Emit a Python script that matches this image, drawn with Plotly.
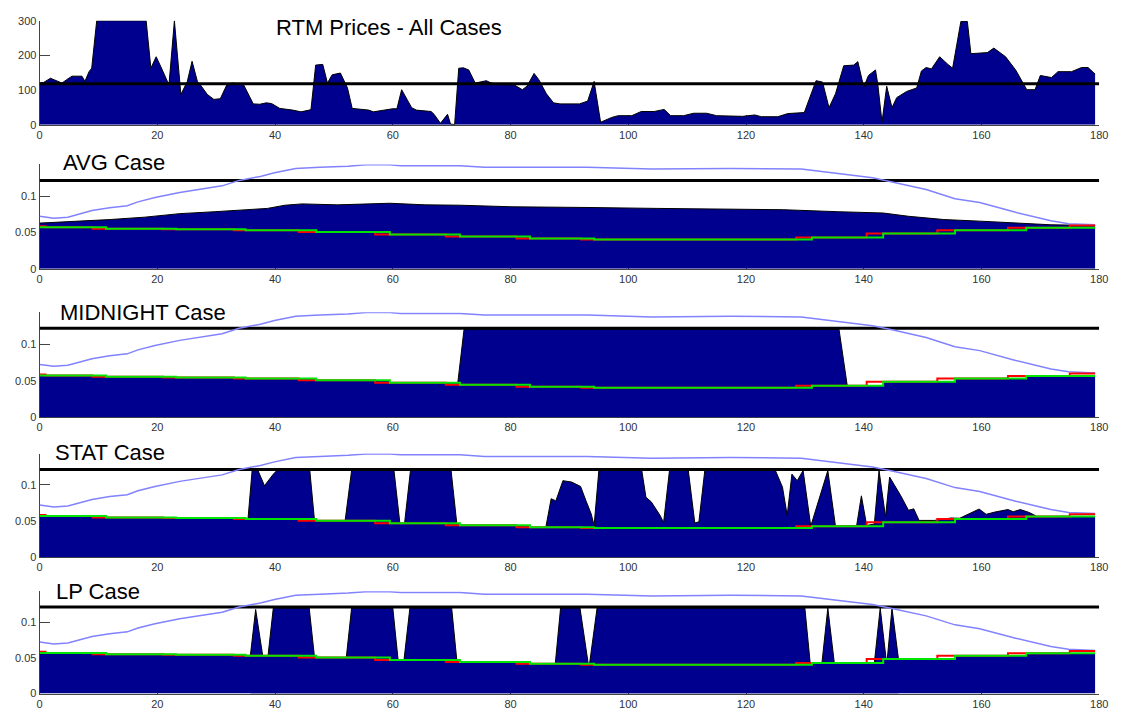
import plotly.graph_objects as go

# ---------------- data ----------------
# real-time market price (top panel)
rtm_x = [0, 0.7, 1.85, 2.7, 3.8, 4.6, 5.5, 7.2, 7.7, 8.4, 8.85, 9.7, 18.1, 18.9, 19.8, 20.6, 21.7, 22,
         22.9, 24, 25.1, 25.9, 26.8, 27.3, 28.5, 29.6, 30.7, 31.8, 32.7, 34.6, 35.5, 36.3, 37.4, 38.5,
         39.4, 40.8, 43, 44.4, 45.8, 46.1, 46.9, 48.1, 48.9, 49.7, 51.1, 52.3, 53.1, 55.9, 56.7, 58.4,
         60, 60.7, 61.5, 63.2, 64, 66.5, 67, 68.1, 69.3, 69.8, 70.5, 71.2, 72, 72.9, 74, 75.9, 76.7,
         79, 80.6, 82, 82.8, 84, 84.8, 86.1, 87.3, 88.4, 91.7, 93.1, 94.2, 94.5, 95.3, 97.2, 98.3,
         100.6, 102.2, 104.4, 106.1, 107.2, 109.4, 111.1, 113.3, 115, 117.2, 119.4, 121.5, 122.6,
         125.4, 127.1, 129.9, 130.5, 131.9, 133, 134.1, 135.2, 136.6, 138.3, 139, 140, 140.8, 142,
         142.4, 143.1, 143.9, 144.8, 145.6, 147.3, 149, 149.8, 150.6, 151.5, 152.9, 154.3, 155.1,
         156.5, 157.6, 158.2, 161, 162.1, 164.1, 165.8, 167.2, 167.7, 169.1, 170, 171.9, 173, 175.3,
         177, 178.1, 179.3]
rtm_y = [120, 122, 134, 127, 120, 130, 140, 140, 125, 153, 163, 300, 300, 163, 196, 167, 125, 120,
         300, 87, 125, 183, 125, 115, 87, 73, 75, 115, 120, 117, 87, 60, 59, 63,
         61, 47, 42, 37, 42, 44, 172, 174, 120, 144, 149, 106, 47, 42, 37, 42,
         46, 46, 101, 49, 42, 38, 30, 4, 30, 2, 0, 163, 164, 158, 120, 127, 120,
         115, 115, 101, 111, 148, 130, 89, 63, 60, 60, 68, 125, 92, 7, 21, 26,
         26, 38, 38, 44, 26, 26, 33, 33, 26, 24, 24, 28, 23,
         23, 32, 35, 63, 127, 123, 49, 89, 170, 172, 182, 108, 142, 158,
         115, 7, 111, 49, 78, 96, 106, 155, 165, 161, 196, 174, 163,
         298, 298, 205, 208, 221, 196, 158, 118, 101, 101, 142, 136, 153, 153,
         165, 165, 146]
rtm_limit = 118

# shared curves of the four load cases
limit_x = [0, 180]
limit_y = [0.1215, 0.1215]

blue_x = [0, 2.4, 4.8, 8.9, 11.9, 14.9, 16.7, 19.6, 23.8, 27.4, 31, 33.9, 37.5, 39.9, 43.5, 47.6,
          52.4, 55.4, 59.5, 61.3, 71.4, 75.6, 85.7, 93, 104, 117.3, 129.4, 135.5, 141.5, 145,
          150.6, 155.5, 159.7, 165.8, 171.8, 174.8, 179.3]
blue_y = [0.0722, 0.0695, 0.071, 0.080, 0.084, 0.0866, 0.092, 0.098, 0.105, 0.11, 0.114, 0.1215,
          0.127, 0.132, 0.138, 0.1395, 0.141, 0.143, 0.143, 0.1417, 0.1417, 0.1395, 0.1395,
          0.1395, 0.137, 0.138, 0.137, 0.1305, 0.125, 0.119, 0.109, 0.0964, 0.091, 0.0776,
          0.066, 0.062, 0.0605]

red_x = [0, 1, 9, 21, 33, 44, 57, 69, 81, 92, 128.5, 140.5, 152.5, 164.5, 175, 179.3]
red_y = [0.0585, 0.057, 0.0552, 0.0543, 0.0529, 0.0507, 0.0471, 0.0444, 0.0417, 0.0404, 0.043,
         0.0484, 0.0529, 0.0565, 0.0596, 0.0596]

green_x = [0, 11.3, 23.2, 35, 47, 59.5, 71.4, 83.3, 94.2, 131.2, 143.3, 155.5, 167.6, 179.3]
green_y = [0.057, 0.0552, 0.0543, 0.0529, 0.0507, 0.0471, 0.0444, 0.0417, 0.0404, 0.043, 0.0484,
           0.0529, 0.0565, 0.0565]

# AVG case total load
avg_x = [0, 6, 12, 17.9, 23.8, 29.8, 35.7, 38.7, 41.7, 44.6, 50.6, 56.5, 59.5, 65.5, 71.4, 80.4,
         87, 93, 105, 117.3, 126.4, 135.5, 143.3, 147.6, 153.6, 159.7, 165.8, 171.8, 179.3]
avg_y = [0.0628, 0.065, 0.0677, 0.071, 0.0758, 0.0785, 0.082, 0.083, 0.0874, 0.0892, 0.0879,
         0.0897, 0.0901, 0.0879, 0.0874, 0.0852, 0.0843, 0.0843, 0.083, 0.082, 0.0812, 0.0785,
         0.0767, 0.0722, 0.0677, 0.0655, 0.0628, 0.0605, 0.0596]

# MIDNIGHT case charging block
mid_x = [71.0, 72.1, 135.8, 137.2]
mid_y = [0.0444, 0.12, 0.12, 0.043]

# STAT case charging blocks
stat_x = [35.4, 36.1, 37.1, 38.2, 39.7, 40.3, 45.9, 46.7, None,
          51.9, 53, 60.2, 61.2, None,
          62, 63, 69.9, 70.9, None,
          86, 86.9, 87.7, 88.9, 90.4, 91.9, 92.8, 93.7, 94.2, 95, 102.3, 103, 103.9, 105.4, 106,
          107, 110.2, 111.3, 112, 113, 125, 126.2, 127, 127.8, 128.7, 129.7, 131, 133.9, 135.2,
          138.8, 139.6, 140.5, 141.8, 142.6, 143.7, 144.4, 146.3, 147.6, 148.5, 149.4, 152,
          154.8, 156.3, 159.6, 160.8, 162.3, 164.5, 165.4, 166.6, 168.1, 169.3]
stat_y = [0.0529, 0.12, 0.12, 0.099, 0.115, 0.12, 0.12, 0.0507, None,
          0.0507, 0.12, 0.12, 0.0471, None,
          0.0471, 0.12, 0.12, 0.0444, None,
          0.0417, 0.081, 0.078, 0.106, 0.104, 0.098, 0.0785, 0.060, 0.044, 0.12, 0.12, 0.083,
          0.0767, 0.058, 0.048, 0.12, 0.12, 0.0475, 0.049, 0.12, 0.12, 0.097, 0.058, 0.115,
          0.106, 0.12, 0.043, 0.12, 0.043, 0.044, 0.085, 0.044, 0.046, 0.12, 0.0557, 0.111,
          0.085, 0.065, 0.067, 0.051, 0.051, 0.0543, 0.054, 0.0667, 0.0594, 0.0626, 0.066,
          0.063, 0.066, 0.062, 0.057]

# LP case charging blocks
lp_x = [35.8, 36.7, 37.9, None, 38.8, 39.7, 45.8, 46.7, None, 52.1, 53, 60, 60.9, None,
        61.9, 62.9, 70, 70.9, None, 87.6, 88.5, 91.8, 93.2, None, 93.4, 94.7, 130, 130.9, None,
        132.9, 133.9, 135, None, 141.8, 142.8, 143.8, None, 144, 144.8, 145.9]
lp_y = [0.053, 0.118, 0.053, None, 0.053, 0.12, 0.12, 0.0507, None, 0.0505, 0.12, 0.12, 0.0471,
        None, 0.0471, 0.12, 0.12, 0.0444, None, 0.0417, 0.12, 0.12, 0.0417, None, 0.0404, 0.12,
        0.12, 0.043, None, 0.043, 0.12, 0.043, None, 0.043, 0.12, 0.0484, None, 0.0484, 0.12,
        0.0484]

titles = ["RTM Prices - All Cases", "AVG Case", "MIDNIGHT Case", "STAT Case", "LP Case"]
x_ticks = [0, 20, 40, 60, 80, 100, 120, 140, 160, 180]
rtm_ticks = [0, 100, 200, 300]
load_ticks = [0, 0.05, 0.1]
load_tick_text = ["0", "0.05", "0.1"]

# ---------------- styling ----------------
NAVY = "#00008F"
BLUE = "#8282FF"
W, H = 1127, 714
FONT = "Arial, Liberation Sans, sans-serif"
LOAD_TOP = 0.1435

x_dom = [37 / W, 1108 / W]
# (top, bottom) pixel rows of each panel
panel_px = [(15, 120.7), (161.1, 267.3), (311.4, 418.3), (455.2, 560.7), (595.3, 699.3)]
title_pos = [(274, 22), (59, 159), (56, 312), (51, 454.5), (52, 595)]

fig = go.Figure()


def ax(i):
    return ("x" if i == 1 else f"x{i}"), ("y" if i == 1 else f"y{i}")


def add(trace, i):
    xa, ya = ax(i)
    trace.update(xaxis=xa, yaxis=ya, hoverinfo="skip", showlegend=False)
    fig.add_trace(trace)


# top panel: prices
add(go.Scatter(x=rtm_x, y=rtm_y, mode="lines", fill="tozeroy", fillcolor=NAVY,
               line=dict(color="black", width=1)), 1)
add(go.Scatter(x=limit_x, y=[rtm_limit, rtm_limit], mode="lines",
               line=dict(color="black", width=3)), 1)

blocks = {3: (mid_x, mid_y), 4: (stat_x, stat_y), 5: (lp_x, lp_y)}
for i in range(2, 6):
    if i == 2:
        add(go.Scatter(x=avg_x, y=avg_y, mode="lines", fill="tozeroy", fillcolor=NAVY,
                       line=dict(color="black", width=1)), i)
    else:
        add(go.Scatter(x=green_x, y=green_y, mode="lines", fill="tozeroy", fillcolor=NAVY,
                       line=dict(color=NAVY, width=0, shape="hv")), i)
        bx, by = blocks[i]
        add(go.Scatter(x=bx, y=by, mode="lines", fill="tozeroy", fillcolor=NAVY,
                       line=dict(color="black", width=1)), i)
    add(go.Scatter(x=limit_x, y=limit_y, mode="lines", line=dict(color="black", width=3)), i)
    add(go.Scatter(x=blue_x, y=blue_y, mode="lines", line=dict(color=BLUE, width=1.5)), i)
    add(go.Scatter(x=red_x, y=red_y, mode="lines",
                   line=dict(color="#FF0000", width=2, shape="hv")), i)
    add(go.Scatter(x=green_x, y=green_y, mode="lines",
                   line=dict(color="#00E600", width=2, shape="hv")), i)

layout = dict(width=W, height=H, margin=dict(l=0, r=0, t=0, b=0),
              paper_bgcolor="white", plot_bgcolor="white", showlegend=False,
              font=dict(family=FONT, color="#333333", size=11))

for i in range(1, 6):
    top, bot = panel_px[i - 1]
    xname = "xaxis" if i == 1 else f"xaxis{i}"
    yname = "yaxis" if i == 1 else f"yaxis{i}"
    xa, ya = ax(i)
    layout[xname] = dict(domain=x_dom, anchor=ya, range=[0, 180], tickvals=x_ticks,
                         ticks="inside", ticklen=10, tickcolor="#444", showline=True,
                         linecolor="#444", linewidth=1, showgrid=False, zeroline=False,
                         layer="below traces", tickfont=dict(size=11, color="#333"))
    if i == 1:
        ydef = dict(range=[0, 300], tickvals=rtm_ticks)
    else:
        ydef = dict(range=[0, LOAD_TOP], tickvals=load_ticks, ticktext=load_tick_text)
    layout[yname] = dict(domain=[1 - bot / H, 1 - top / H], anchor=xa, ticks="inside",
                         ticklen=10, tickcolor="#444", showline=True, linecolor="#444",
                         linewidth=1, showgrid=False, zeroline=False, layer="below traces",
                         tickfont=dict(size=11, color="#333"), **ydef)

fig.update_layout(**layout)

for (tx, ty), t in zip(title_pos, titles):
    fig.add_annotation(text=t, xref="paper", yref="paper", x=tx / W, y=1 - ty / H,
                       xanchor="left", yanchor="middle", showarrow=False,
                       font=dict(family=FONT, size=22, color="black"))

fig.write_html("out.html")
